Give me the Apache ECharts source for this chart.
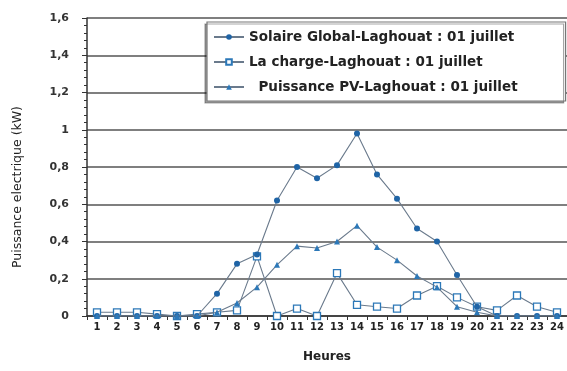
<!DOCTYPE html>
<html>
<head>
<meta charset="utf-8">
<script src="https://cdn.jsdelivr.net/npm/echarts@6/dist/echarts.min.js"></script>
<style>
  html, body { margin: 0; padding: 0; background: #ffffff; }
  #chart { width: 567px; height: 371px; }
</style>
</head>
<body>
<div id="chart"></div>
<script>
// Hours of the day (x axis categories)
const hours = ['1','2','3','4','5','6','7','8','9','10','11','12','13','14','15','16','17','18','19','20','21','22','23','24'];

// Global solar power, Laghouat, 1 July (kW)
const solaireGlobal = [0, 0, 0, 0, 0, 0, 0.12, 0.28, 0.33, 0.62, 0.80, 0.74, 0.81, 0.98, 0.76, 0.63, 0.47, 0.40, 0.22, 0.05, 0, 0, 0, 0];

// Load, Laghouat, 1 July (kW)
const charge = [0.02, 0.02, 0.02, 0.01, 0, 0.01, 0.02, 0.03, 0.32, 0, 0.04, 0, 0.23, 0.06, 0.05, 0.04, 0.11, 0.16, 0.10, 0.05, 0.03, 0.11, 0.05, 0.02];

// PV output power, Laghouat, 1 July (kW)
const puissancePV = [0, 0, 0, 0, 0, 0, 0.02, 0.07, 0.155, 0.275, 0.375, 0.365, 0.40, 0.485, 0.37, 0.30, 0.215, 0.155, 0.05, 0.02, 0, 0, 0, 0];

const seriesNames = [
  'Solaire Global-Laghouat : 01 juillet',
  'La charge-Laghouat : 01 juillet',
  'Puissance PV-Laghouat : 01 juillet'
];

const lineColor = '#6a7a8c';
const markColor = '#2c78b8';
const font = '"DejaVu Sans", "Liberation Sans", Arial, sans-serif';

const chart = echarts.init(document.getElementById('chart'), null, { renderer: 'canvas' });

chart.setOption({
  backgroundColor: '#ffffff',
  animation: false,
  grid: { left: 87, right: 0, top: 18, bottom: 55, containLabel: false },
  graphic: [{
    type: 'text',
    x: 18,
    y: 187,
    rotation: Math.PI / 2,
    style: {
      text: 'Puissance electrique (kW)',
      fontFamily: font,
      fontSize: 12.5,
      fill: '#222',
      align: 'center',
      verticalAlign: 'middle'
    }
  }],
  legend: {
    orient: 'vertical',
    left: 207,
    top: 22,
    padding: [8, 48, 7, 6],
    itemGap: 11,
    itemWidth: 30,
    itemHeight: 7,
    backgroundColor: '#ffffff',
    borderColor: '#777',
    borderWidth: 1.2,
    shadowColor: 'rgba(0,0,0,0.35)',
    shadowOffsetX: -2,
    shadowOffsetY: 2,
    textStyle: { fontFamily: font, fontSize: 13.5, color: '#222', fontWeight: 'bold' },
    formatter: function (name) { return name === seriesNames[2] ? '  ' + name : name; },
    data: seriesNames
  },
  xAxis: {
    type: 'category',
    data: hours,
    boundaryGap: true,
    name: 'Heures',
    nameLocation: 'middle',
    nameGap: 35,
    nameTextStyle: { fontFamily: font, fontSize: 12, fontWeight: 'bold', color: '#222' },
    axisLine: { lineStyle: { color: '#333', width: 1.5 } },
    axisTick: { show: true, alignWithLabel: false, length: 4, lineStyle: { color: '#333' } },
    axisLabel: { interval: 0, fontFamily: font, fontSize: 10, fontWeight: 'bold', color: '#222', margin: 6 }
  },
  yAxis: {
    type: 'value',
    min: 0,
    max: 1.6,
    interval: 0.2,
    axisLine: { show: true, lineStyle: { color: '#333', width: 1.5 } },
    axisTick: { show: true, inside: false, length: 5, lineStyle: { color: '#333' } },
    minorTick: { show: true, splitNumber: 5, length: 3, lineStyle: { color: '#333' } },
    splitLine: { show: true, lineStyle: { color: '#555', width: 1.5 } },
    axisLabel: {
      fontFamily: font, fontSize: 11, fontWeight: 'bold', color: '#333', margin: 18,
      formatter: function (v) { return String(Math.round(v * 10) / 10).replace('.', ','); }
    }
  },
  series: [
    {
      name: seriesNames[0],
      type: 'line',
      data: solaireGlobal,
      symbol: 'circle',
      symbolSize: 6,
      showAllSymbol: true,
      lineStyle: { color: lineColor, width: 1.1 },
      itemStyle: { color: '#1f64a6' },
      z: 3
    },
    {
      name: seriesNames[1],
      type: 'line',
      data: charge,
      symbol: 'rect',
      symbolSize: 7,
      showAllSymbol: true,
      lineStyle: { color: lineColor, width: 1.1 },
      itemStyle: { color: '#ffffff', borderColor: markColor, borderWidth: 1.3 },
      z: 2
    },
    {
      name: seriesNames[2],
      type: 'line',
      data: puissancePV,
      symbol: 'triangle',
      symbolSize: 6,
      showAllSymbol: true,
      lineStyle: { color: lineColor, width: 1.1 },
      itemStyle: { color: markColor },
      z: 4
    }
  ]
});
</script>
</body>
</html>
